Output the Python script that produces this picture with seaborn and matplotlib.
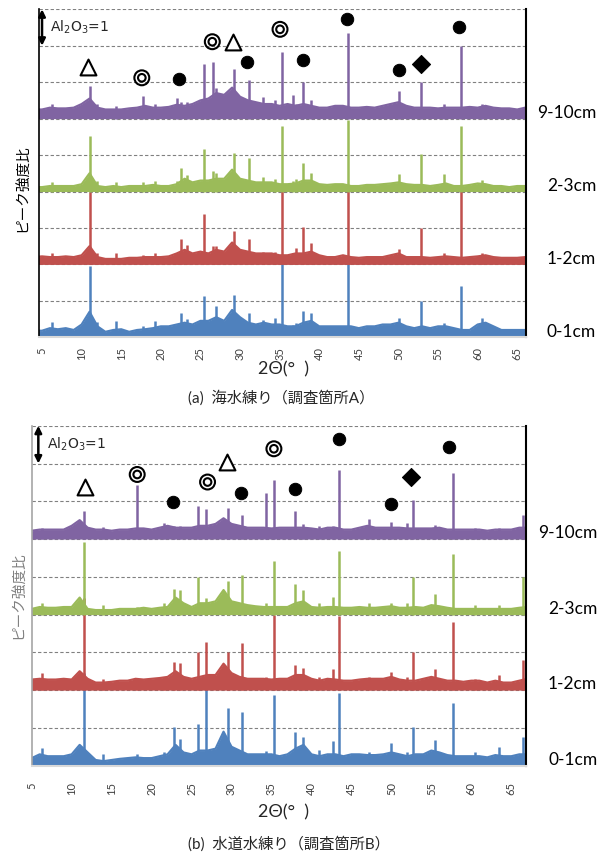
import numpy as np
import matplotlib.pyplot as plt
import seaborn as sns

sns.set_style("white")
plt.rcParams['font.family'] = ['Lato', 'Noto Sans CJK JP', 'DejaVu Sans']

# depth labels, bottom to top, and their vertical offsets (units of Al2O3 peak)
DEPTHS = ["0-1cm", "1-2cm", "2-3cm", "9-10cm"]
OFFSETS = [0, 2, 4, 6]
COLORS = ["#4F81BD", "#C0504D", "#9BBB59", "#8064A2"]

# background band height sampled every 1 deg from 4 to 67 deg
BG_X = list(range(4, 68))

# ---- (a) sea water mix ----
BG_A_01 = [0.18, 0.18, 0.25, 0.22, 0.25, 0.2, 0.35, 0.7, 0.3, 0.15,
           0.2, 0.22, 0.15, 0.2, 0.22, 0.25, 0.3, 0.3, 0.35, 0.4,
           0.35, 0.45, 0.45, 0.55, 0.45, 0.75, 0.55, 0.4, 0.35, 0.4,
           0.35, 0.35, 0.3, 0.3, 0.4, 0.45, 0.3, 0.3, 0.3, 0.3,
           0.3, 0.25, 0.3, 0.3, 0.35, 0.35, 0.4, 0.3, 0.25, 0.3,
           0.25, 0.3, 0.3, 0.25, 0.2, 0.2, 0.35, 0.4, 0.3, 0.2,
           0.2, 0.2, 0.2, 0.2]
BG_A_12 = [0.2, 0.22, 0.2, 0.2, 0.22, 0.2, 0.25, 0.5, 0.2, 0.15,
           0.15, 0.15, 0.18, 0.18, 0.2, 0.2, 0.2, 0.22, 0.3, 0.4,
           0.3, 0.35, 0.3, 0.4, 0.35, 0.6, 0.4, 0.35, 0.3, 0.3,
           0.3, 0.25, 0.25, 0.3, 0.3, 0.35, 0.25, 0.2, 0.2, 0.25,
           0.2, 0.18, 0.2, 0.2, 0.2, 0.25, 0.3, 0.2, 0.2, 0.2,
           0.18, 0.2, 0.22, 0.2, 0.18, 0.2, 0.22, 0.25, 0.2, 0.18,
           0.18, 0.18, 0.2, 0.2]
BG_A_23 = [0.12, 0.12, 0.15, 0.15, 0.15, 0.15, 0.2, 0.5, 0.15, 0.12,
           0.15, 0.12, 0.15, 0.15, 0.15, 0.18, 0.15, 0.15, 0.2, 0.35,
           0.25, 0.3, 0.3, 0.35, 0.35, 0.6, 0.35, 0.3, 0.25, 0.25,
           0.25, 0.2, 0.2, 0.22, 0.3, 0.3, 0.2, 0.18, 0.2, 0.2,
           0.15, 0.15, 0.18, 0.18, 0.2, 0.22, 0.25, 0.2, 0.18, 0.18,
           0.15, 0.18, 0.22, 0.15, 0.15, 0.18, 0.22, 0.2, 0.15, 0.15,
           0.12, 0.15, 0.15, 0.15]
BG_A_910 = [0.25, 0.25, 0.3, 0.28, 0.28, 0.3, 0.4, 0.55, 0.3, 0.25,
            0.25, 0.25, 0.28, 0.3, 0.35, 0.3, 0.3, 0.32, 0.38, 0.35,
            0.4, 0.5, 0.55, 0.7, 0.65, 0.85, 0.6, 0.5, 0.45, 0.4,
            0.4, 0.35, 0.4, 0.35, 0.4, 0.35, 0.3, 0.3, 0.35, 0.35,
            0.3, 0.3, 0.32, 0.3, 0.35, 0.4, 0.45, 0.35, 0.3, 0.3,
            0.3, 0.28, 0.3, 0.3, 0.3, 0.32, 0.3, 0.35, 0.3, 0.28,
            0.28, 0.25, 0.3, 0.3]

PEAK_X_A = [6.2, 11.1, 11.9, 14.4, 17.8, 19.3, 22.0, 22.6, 23.3, 25.5,
            26.6, 27.0, 29.3, 31.1, 32.9, 34.4, 35.3, 36.7, 37.1, 38.0,
            39.0, 43.6, 50.1, 52.8, 55.7, 57.9, 60.5]
PEAK_A_01 = [0.43, 1.95, 0.43, 0.45, 0.3, 0.46, 0.35, 0.66, 0.5, 1.12,
             0.5, 0.86, 1.17, 0.68, 0.48, 0.52, 2.05, 0.35, 0.4, 0.73,
             0.66, 2.05, 0.52, 1.0, 0.4, 1.41, 0.52]
PEAK_A_12 = [0.3, 2.0, 0.3, 0.3, 0.25, 0.3, 0.3, 0.69, 0.53, 1.39,
             0.5, 0.5, 0.92, 0.69, 0.35, 0.35, 2.05, 0.3, 0.46, 1.03,
             0.6, 2.1, 0.41, 1.0, 0.3, 2.05, 0.32]
PEAK_A_23 = [0.25, 1.51, 0.3, 0.25, 0.25, 0.3, 0.3, 0.64, 0.45, 1.17,
             0.55, 0.5, 1.07, 0.92, 0.4, 0.35, 1.79, 0.3, 0.35, 0.78,
             0.5, 1.95, 0.49, 1.04, 0.49, 1.79, 0.32]
PEAK_A_910 = [0.4, 0.89, 0.4, 0.35, 0.62, 0.4, 0.57, 0.45, 0.45, 1.51,
              1.56, 0.85, 1.35, 1.06, 0.6, 0.5, 1.83, 0.66, 0.4, 1.01,
              0.5, 2.34, 0.76, 1.01, 0.4, 2.0, 0.4]

MARK_X_A = [10.85, 17.6, 22.3, 26.5, 29.1, 30.9, 35.05, 38.0, 43.55, 50.1, 52.8, 57.7]
MARK_Y_A = [7.43, 7.12, 7.1, 8.11, 8.11, 7.56, 8.45, 7.6, 8.74, 7.33, 7.5, 8.52]
MARK_KIND_A = ['tri', 'ring', 'dot', 'ring', 'tri', 'dot', 'ring', 'dot', 'dot', 'dot', 'dia', 'dot']

# ---- (b) tap water mix ----
BG_B_01 = [0.2, 0.2, 0.3, 0.25, 0.25, 0.25, 0.3, 0.55, 0.35, 0.15,
           0.12, 0.15, 0.18, 0.2, 0.22, 0.2, 0.2, 0.25, 0.3, 0.55,
           0.35, 0.3, 0.4, 0.4, 0.45, 0.9, 0.5, 0.4, 0.3, 0.3,
           0.3, 0.3, 0.25, 0.3, 0.45, 0.55, 0.3, 0.25, 0.3, 0.3,
           0.25, 0.3, 0.3, 0.28, 0.28, 0.3, 0.35, 0.3, 0.25, 0.3,
           0.3, 0.4, 0.35, 0.28, 0.25, 0.25, 0.25, 0.25, 0.22, 0.28,
           0.25, 0.25, 0.3, 0.3]
BG_B_12 = [0.25, 0.28, 0.3, 0.28, 0.28, 0.3, 0.28, 0.5, 0.3, 0.2,
           0.2, 0.22, 0.25, 0.25, 0.3, 0.28, 0.3, 0.32, 0.35, 0.5,
           0.35, 0.3, 0.35, 0.4, 0.4, 0.7, 0.45, 0.35, 0.3, 0.3,
           0.3, 0.28, 0.3, 0.3, 0.4, 0.4, 0.3, 0.25, 0.3, 0.28,
           0.25, 0.25, 0.28, 0.3, 0.3, 0.3, 0.35, 0.28, 0.25, 0.25,
           0.3, 0.35, 0.3, 0.25, 0.25, 0.22, 0.25, 0.25, 0.2, 0.25,
           0.2, 0.2, 0.25, 0.3]
BG_B_23 = [0.15, 0.15, 0.2, 0.18, 0.18, 0.2, 0.2, 0.45, 0.15, 0.12,
           0.12, 0.12, 0.15, 0.15, 0.15, 0.18, 0.15, 0.18, 0.2, 0.45,
           0.3, 0.2, 0.3, 0.3, 0.35, 0.65, 0.35, 0.3, 0.25, 0.22,
           0.2, 0.2, 0.2, 0.2, 0.3, 0.35, 0.2, 0.18, 0.2, 0.2,
           0.18, 0.18, 0.2, 0.18, 0.18, 0.2, 0.22, 0.18, 0.18, 0.2,
           0.18, 0.25, 0.22, 0.18, 0.15, 0.15, 0.15, 0.15, 0.15, 0.15,
           0.15, 0.15, 0.18, 0.2]
BG_B_910 = [0.22, 0.22, 0.25, 0.25, 0.25, 0.25, 0.35, 0.5, 0.3, 0.25,
            0.25, 0.22, 0.25, 0.25, 0.28, 0.28, 0.25, 0.3, 0.35, 0.3,
            0.3, 0.3, 0.35, 0.35, 0.4, 0.55, 0.4, 0.35, 0.3, 0.3,
            0.3, 0.28, 0.3, 0.3, 0.3, 0.3, 0.28, 0.25, 0.3, 0.3,
            0.25, 0.25, 0.3, 0.35, 0.3, 0.3, 0.3, 0.3, 0.28, 0.28,
            0.28, 0.28, 0.3, 0.25, 0.25, 0.25, 0.25, 0.25, 0.22, 0.25,
            0.25, 0.25, 0.3, 0.3]

PEAK_X_B = [6.25, 11.5, 13.9, 18.2, 21.6, 22.8, 23.6, 25.75, 26.8, 29.5,
            31.3, 34.3, 35.3, 38.0, 39.0, 40.9, 42.7, 43.5, 47.25, 50.0,
            51.9, 52.7, 55.5, 57.65, 60.5, 63.4, 66.4]
PEAK_B_01 = [0.46, 2.45, 0.3, 0.3, 0.35, 1.02, 0.7, 1.1, 2.27, 1.52,
             1.43, 0.4, 1.88, 0.88, 0.77, 0.42, 0.66, 1.92, 0.35, 0.59,
             0.35, 1.02, 0.68, 1.65, 0.37, 0.5, 0.77]
PEAK_B_12 = [0.46, 2.45, 0.3, 0.3, 0.35, 0.75, 0.73, 1.02, 1.28, 1.02,
             1.26, 0.35, 2.0, 0.66, 0.59, 0.35, 0.57, 1.95, 0.35, 0.49,
             0.35, 1.02, 0.57, 1.81, 0.3, 0.4, 0.8]
PEAK_B_23 = [0.3, 1.92, 0.25, 0.2, 0.3, 0.68, 0.64, 0.99, 0.45, 0.88,
             1.06, 0.3, 1.43, 0.8, 0.64, 0.3, 0.46, 1.68, 0.3, 0.3,
             0.3, 1.0, 0.55, 1.61, 0.25, 0.25, 1.0]
PEAK_B_910 = [0.3, 0.75, 0.33, 1.43, 0.43, 0.35, 0.35, 0.88, 0.79, 0.81,
              0.65, 1.23, 1.57, 0.74, 0.4, 0.35, 0.35, 1.83, 0.53, 0.46,
              0.42, 1.04, 0.37, 1.74, 0.3, 0.3, 0.64]

MARK_X_B = [11.72, 18.2, 22.7, 27.0, 29.4, 31.2, 35.3, 38.0, 43.5, 49.9, 52.5, 57.2]
MARK_Y_B = [7.37, 7.71, 6.98, 7.51, 8.04, 7.23, 8.39, 7.33, 8.64, 6.94, 7.64, 8.44]
MARK_KIND_B = ['tri', 'ring', 'dot', 'ring', 'tri', 'dot', 'ring', 'dot', 'dot', 'dot', 'dia', 'dot']

XTICKS = list(range(5, 70, 5))


def draw_panel(ax, bgs, peak_x, peaks, mark_x, mark_y, mark_kind, xlim,
               left_color, tickpad, arrow_x, label_x):
    for bg, pk, off, c in zip(bgs, peaks, OFFSETS, COLORS):
        top = off + np.array(bg)
        ax.fill_between(BG_X, off, top, color=c, lw=0, zorder=2)
        sns.lineplot(x=BG_X, y=top, color=c, lw=1.6, ax=ax, zorder=2)
        ax.vlines(peak_x, off, off + np.array(pk), color=c, lw=1.8, zorder=2)

    # identification symbols
    mx = np.array(mark_x)
    my = np.array(mark_y)
    kind = np.array(mark_kind)
    sel = kind == 'dot'
    sns.scatterplot(x=mx[sel], y=my[sel], color='black', s=80, marker='o',
                    edgecolor='black', ax=ax, zorder=5)
    sel = kind == 'dia'
    sns.scatterplot(x=mx[sel], y=my[sel], color='black', s=85, marker='D',
                    edgecolor='black', ax=ax, zorder=5)
    sel = kind == 'tri'
    ax.scatter(mx[sel], my[sel], s=130, marker='^', facecolors='white',
               edgecolors='black', linewidths=1.5, zorder=5)
    sel = kind == 'ring'
    ax.scatter(mx[sel], my[sel], s=115, marker='o', facecolors='none',
               edgecolors='black', linewidths=1.5, zorder=5)
    ax.scatter(mx[sel], my[sel], s=30, marker='o', facecolors='none',
               edgecolors='black', linewidths=1.5, zorder=5)

    # Al2O3 = 1 scale arrow
    ax.annotate('', xy=(arrow_x, 9.0), xytext=(arrow_x, 8.0),
                arrowprops=dict(arrowstyle='<|-|>', color='black', lw=1.8,
                                mutation_scale=10, shrinkA=0, shrinkB=0),
                annotation_clip=False, zorder=6)
    ax.text(label_x, 8.5, r'Al$_2$O$_3$=1', fontsize=10, ha='left',
            va='center', family=['DejaVu Sans'])

    # depth labels on the right
    for off, d in zip(OFFSETS, DEPTHS):
        ax.text(1.145, off + 0.15, d, transform=ax.get_yaxis_transform(),
                ha='right', va='center', fontsize=12.5, color='black')

    ax.set_xlim(*xlim)
    ax.set_ylim(0, 9)
    ax.set_xticks(XTICKS)
    ax.set_xticklabels([str(t) for t in XTICKS], rotation=90, fontsize=8,
                       color='#404040')
    ax.set_yticks(range(10))
    ax.tick_params(axis='y', length=0, labelleft=False)
    ax.tick_params(axis='x', length=0, pad=tickpad)
    ax.yaxis.grid(True, ls=(0, (3, 2)), color='#808080', lw=0.8)
    ax.xaxis.grid(False)
    ax.set_axisbelow(True)
    ax.set_xlabel('')
    ax.set_ylabel('')
    ax.spines['top'].set_visible(False)
    ax.spines['bottom'].set_color('#d9d9d9')
    ax.spines['bottom'].set_linewidth(1.5)
    ax.spines['left'].set_color(left_color)
    ax.spines['left'].set_linewidth(1.2)
    ax.spines['right'].set_color('black')
    ax.spines['right'].set_linewidth(1.5)


fig = plt.figure(figsize=(6.06, 8.52), dpi=100)
ax_a = fig.add_axes([0.0649, 0.6041, 0.8026, 0.3850])
ax_b = fig.add_axes([0.0523, 0.1013, 0.8152, 0.3990])

draw_panel(ax_a, [BG_A_01, BG_A_12, BG_A_23, BG_A_910], PEAK_X_A,
           [PEAK_A_01, PEAK_A_12, PEAK_A_23, PEAK_A_910],
           MARK_X_A, MARK_Y_A, MARK_KIND_A, (4.66, 66.07), 'black', 7,
           5.0, 6.0)
draw_panel(ax_b, [BG_B_01, BG_B_12, BG_B_23, BG_B_910], PEAK_X_B,
           [PEAK_B_01, PEAK_B_12, PEAK_B_23, PEAK_B_910],
           MARK_X_B, MARK_Y_B, MARK_KIND_B, (5.21, 66.8), '#a6a6a6', 12,
           5.83, 6.87)

# axis titles and captions
fig.text(0.038, 0.779, 'ピーク強度比', rotation=90, ha='center', va='center',
         fontsize=10.5, color='black', family=['Noto Sans CJK JP'])
fig.text(0.032, 0.302, 'ピーク強度比', rotation=90, ha='center', va='center',
         fontsize=10.5, color='#808080', family=['Noto Sans CJK JP'])
fig.text(0.467, 0.567, '2Θ(°  )', ha='center', va='center', fontsize=13)
fig.text(0.467, 0.046, '2Θ(°  )', ha='center', va='center', fontsize=13)
fig.text(0.310, 0.533, '(a)  海水練り（調査箇所A）', ha='left', va='center',
         fontsize=11)
fig.text(0.310, 0.0095, '(b)  水道水練り（調査箇所B）', ha='left', va='center',
         fontsize=11)

fig.savefig('out.png', dpi=100)
